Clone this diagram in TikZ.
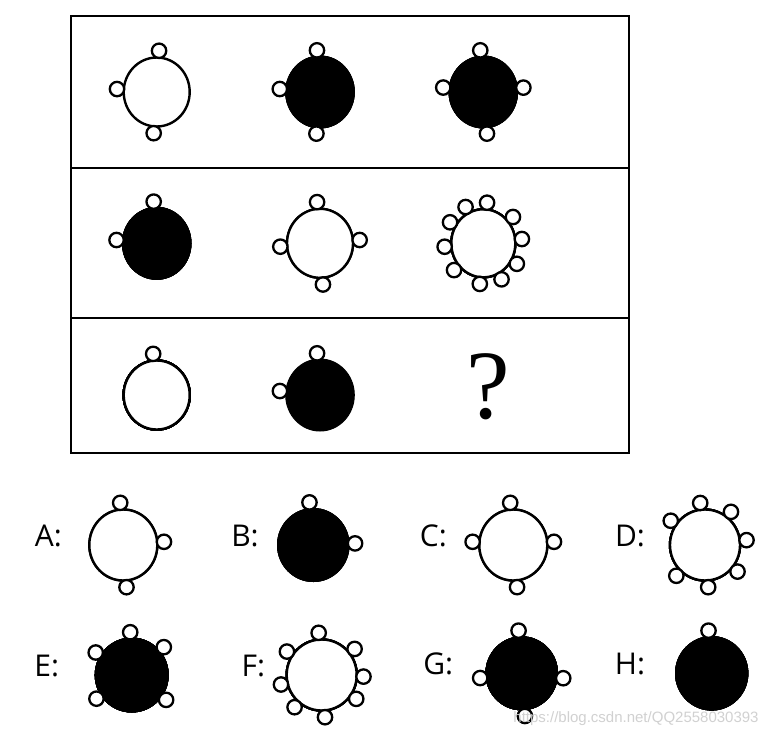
\documentclass[tikz,border=0pt]{standalone}
\usepackage{fontspec}
\setmainfont{Open Sans}
\newfontfamily\qfont{Liberation Serif}
\newfontfamily\wmfont{Liberation Sans}
\newcommand\smcirc[6]{%
  \pgfmathsetmacro\smang{atan2(#4-#2,#3-#1)}%
  \draw[sc] ({#1+(#5+6.8)*cos(\smang)},{#2+(#6+6.8)*sin(\smang)}) circle (7.2);}
\begin{document}
\begin{tikzpicture}[x=1pt,y=-1pt,
  wc/.style={draw=black,line width=2.4pt,fill=white},
  bc/.style={draw=black,line width=1pt,fill=black},
  sc/.style={draw=black,line width=2.3pt,fill=white},
  lbl/.style={font=\fontsize{30}{30}\selectfont,inner sep=0pt}]
\useasboundingbox[fill=white] (0,0) rectangle (776,740);
% frame
\draw[line width=2.5pt] (71,16) rectangle (629,453);
\draw[line width=1.6pt] (71,168) -- (629,168);
\draw[line width=1.6pt] (71,318) -- (629,318);
% Row 1
\draw[wc] (156.7,92) ellipse (33 and 34.5);
\foreach \px/\py in {159.3/48.3,115/89,153.3/136.7} \smcirc{156.7}{92}{\px}{\py}{33}{34.5}
\draw[bc] (320,92) ellipse (34.3 and 36);
\foreach \px/\py in {316.7/48.3,278.3/89,316/136.7} \smcirc{320}{92}{\px}{\py}{33.5}{35}
\draw[bc] (483.3,92) ellipse (34.3 and 36);
\foreach \px/\py in {480/48.3,443.3/87.7,524/87.7,487.3/135.7} \smcirc{483.3}{92}{\px}{\py}{33.5}{35}
% Row 2
\draw[bc] (156.7,243.3) ellipse (34.3 and 36);
\foreach \px/\py in {153.3/198.3,115/240} \smcirc{156.7}{243.3}{\px}{\py}{33.5}{35}
\draw[wc] (320,243.3) ellipse (33 and 34.5);
\foreach \px/\py in {316.7/198.3,278.3/246.7,361/240,323.3/287.7} \smcirc{320}{243.3}{\px}{\py}{33}{34.5}
\draw[wc] (483.3,243.3) ellipse (32 and 34);
\foreach \px/\py in {487.7/198.3,465/207.7,450/223.3,442.7/246.7,450/272.3,479.3/287.7,502.3/279,517.7/263.3,524/239,517.7/214.3} \smcirc{483.3}{243.3}{\px}{\py}{32}{34}
% Row 3
\draw[wc] (156.7,395) ellipse (33 and 34.5);
\foreach \px/\py in {152.7/350} \smcirc{156.7}{395}{\px}{\py}{33}{34.5}
\draw[bc] (320,395) ellipse (34.3 and 36);
\foreach \px/\py in {316.7/350,278.3/391} \smcirc{320}{395}{\px}{\py}{33.5}{35}
% Answers
\draw[wc] (123.3,545) ellipse (34 and 35.5);
\foreach \px/\py in {120/501.7,166.7/541.7,126.7/588.3} \smcirc{123.3}{545}{\px}{\py}{34}{35.5}
\draw[bc] (313.3,545) ellipse (35.8 and 36.5);
\foreach \px/\py in {309.3/501.7,358.3/543.3} \smcirc{313.3}{545}{\px}{\py}{35}{36}
\draw[wc] (513.3,545) ellipse (34 and 35.5);
\foreach \px/\py in {510/501.7,470/541.7,556.7/541.7,517.3/588.3} \smcirc{513.3}{545}{\px}{\py}{34}{35.5}
\draw[wc] (705,545) ellipse (35 and 35.5);
\foreach \px/\py in {700/501.7,733.3/509.3,668.3/519.3,748.3/540,678.3/573.3,740/573.3,708.3/588.3} \smcirc{705}{545}{\px}{\py}{35}{35.5}
\draw[bc] (131.7,675) ellipse (36.5 and 37);
\foreach \px/\py in {130/626.7,94/651.7,166.7/645,94/700,166.7/700} \smcirc{131.7}{675}{\px}{\py}{35.5}{36}
\draw[wc] (321.7,675) ellipse (35 and 35.5);
\foreach \px/\py in {318.3/628.3,286.7/651.7,360/645,366.7/676.7,278.3/685,358.3/700,293.3/708.3,325/716.7} \smcirc{321.7}{675}{\px}{\py}{35}{35.5}
\draw[bc] (521.7,673.3) ellipse (35.8 and 36.5);
\foreach \px/\py in {518.3/628.3,476.7/678.3,565/678.3,525/716} \smcirc{521.7}{673.3}{\px}{\py}{35}{36}
\draw[bc] (711.7,673.3) ellipse (36.2 and 36.8);
\foreach \px/\py in {708.3/628.3} \smcirc{711.7}{673.3}{\px}{\py}{35.5}{36}
% texts
\node[inner sep=0pt,font=\qfont\fontsize{98}{98}\selectfont] (q) at (488.3,387) {?};
\node[lbl] (la) at (48.3,536) {A:};
\node[lbl] (lb) at (245,536) {B:};
\node[lbl] (lc) at (433.3,536) {C:};
\node[lbl] (ld) at (630,536) {D:};
\node[lbl] (le) at (46.7,666) {E:};
\node[lbl] (lf) at (253.3,666) {F:};
\node[lbl] (lg) at (438.3,664) {G:};
\node[lbl] (lh) at (630,664) {H:};
% watermark
\node[inner sep=0pt,text=black!20,opacity=0.9,font=\wmfont\fontsize{15}{15}\selectfont] (wm) at (636,719) {https://blog.csdn.net/QQ2558030393};
\end{tikzpicture}
\end{document}
